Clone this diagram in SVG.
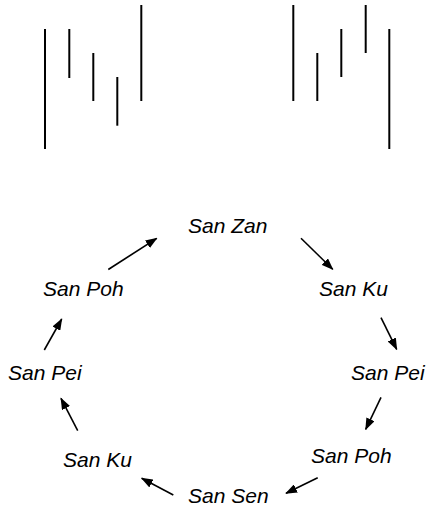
<svg xmlns="http://www.w3.org/2000/svg" width="430" height="511" viewBox="0 0 430 511">
<style>
.bar{stroke:#000;stroke-width:2;fill:none}
.lbl{font-family:"Liberation Sans",Arial,sans-serif;font-style:italic;font-size:21px;fill:#000}
.conn{stroke:#000;stroke-width:1.6;fill:none;marker-end:url(#ah)}
</style>
<defs>
<marker id="ah" viewBox="0 0 12 9" refX="11" refY="4.5" markerWidth="12" markerHeight="9" markerUnits="userSpaceOnUse" orient="auto">
<path d="M0,0 L12,4.5 L0,9 z" fill="#000"/>
</marker>
</defs>
<rect width="430" height="511" fill="#fff"/>
<g id="left-bars">
<line class="bar" x1="45" y1="29" x2="45" y2="149"/>
<line class="bar" x1="69.3" y1="29" x2="69.3" y2="78"/>
<line class="bar" x1="93.3" y1="53" x2="93.3" y2="101"/>
<line class="bar" x1="117.3" y1="77" x2="117.3" y2="125.7"/>
<line class="bar" x1="141.3" y1="5" x2="141.3" y2="101"/>
</g>
<g id="right-bars">
<line class="bar" x1="293.3" y1="5" x2="293.3" y2="101"/>
<line class="bar" x1="317.3" y1="53" x2="317.3" y2="101"/>
<line class="bar" x1="341.3" y1="29" x2="341.3" y2="77"/>
<line class="bar" x1="365.7" y1="5" x2="365.7" y2="53"/>
<line class="bar" x1="389.3" y1="29" x2="389.3" y2="149"/>
</g>
<g id="n-sanzan"><text class="lbl" x="188" y="233">San Zan</text></g>
<g id="n-sanku-r"><text class="lbl" x="319" y="296">San Ku</text></g>
<g id="n-sanpei-r"><text class="lbl" x="351" y="379.5">San Pei</text></g>
<g id="n-sanpoh-r"><text class="lbl" x="311" y="462.5">San Poh</text></g>
<g id="n-sansen"><text class="lbl" x="188" y="502.5">San Sen</text></g>
<g id="n-sanku-l"><text class="lbl" x="63" y="467">San Ku</text></g>
<g id="n-sanpei-l"><text class="lbl" x="8" y="379.5">San Pei</text></g>
<g id="n-sanpoh-l"><text class="lbl" x="43" y="296">San Poh</text></g>
<g id="connectors">
<line class="conn" x1="108.3" y1="269.5" x2="156.7" y2="238.3"/>
<line class="conn" x1="301" y1="238.3" x2="332.7" y2="269.3"/>
<line class="conn" x1="381" y1="317.7" x2="396.7" y2="349.3"/>
<line class="conn" x1="381" y1="397.3" x2="365.7" y2="429.3"/>
<line class="conn" x1="317.7" y1="477.7" x2="286" y2="493.3"/>
<line class="conn" x1="173.3" y1="495" x2="141.7" y2="478.3"/>
<line class="conn" x1="77.7" y1="430.7" x2="61" y2="398.3"/>
<line class="conn" x1="44.3" y1="350" x2="61.7" y2="319"/>
</g>
</svg>
